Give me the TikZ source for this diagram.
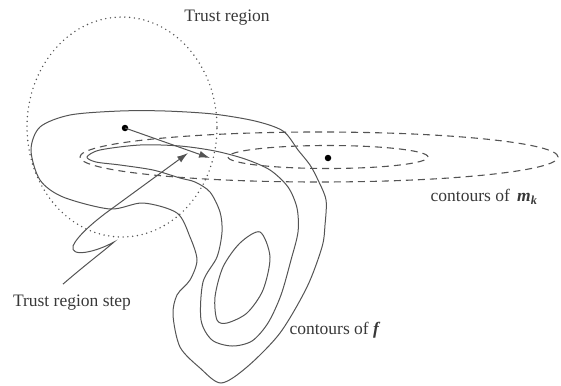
\documentclass[tikz,border=0pt]{standalone}
\usepackage{fontspec}
\setmainfont{Liberation Serif}
\usetikzlibrary{arrows.meta}

\definecolor{inkc}{gray}{0.22}
\definecolor{linec}{gray}{0.33}

\begin{document}
\begin{tikzpicture}[
    x=1pt, y=-1pt,
    lbl/.style     = {text=inkc, font=\fontsize{17.5}{20}\selectfont, inner sep=1pt},
    fcont/.style   = {draw=linec, line width=1pt},
    mcont/.style   = {draw=linec, line width=1.1pt, dash pattern=on 7pt off 5pt},
    tregion/.style = {draw=linec, line width=1.6pt, line cap=round,
                      dash pattern=on 0pt off 4.8pt},
    dot/.style     = {circle, fill=black, inner sep=0pt, minimum size=6.5pt},
    arrow/.style   = {-{Latex[length=11pt,width=7pt]}, draw=linec, line width=1pt}
  ]
  \useasboundingbox (0,0) rectangle (561,385);

  % Trust region
  \draw[tregion] (122,127) ellipse [x radius=95pt, y radius=110pt];

  % contours of m_k
  \draw[mcont] (319,157) ellipse [x radius=239pt, y radius=25pt];
  \draw[mcont] (328,157) ellipse [x radius=100pt, y radius=11.5pt];

  % contours of f
  \draw[fcont] plot[smooth cycle] coordinates {
    (31,150) (40,127) (70,115) (120,111) (165,111) (213,114) (255,121)
    (283,131) (298,150) (310,165) (318,180) (326,200) (325,225) (322,247)
    (307,287) (280,333) (247,367) (221,383) (200,368) (180,347) (173,315)
    (177,295) (190,280) (197,260) (190,237) (177,213) (143,203) (110,209)
    (63,197) (40,180)};
  \draw[fcont] plot[smooth cycle] coordinates {
    (87,157) (100,150) (140,145) (180,146) (215,151) (245,159) (270,170)
    (288,187) (297,208) (298,232) (291,260) (281,295) (268,323) (252,341)
    (232,346) (212,340) (201,320) (203,282) (217,257) (222,232) (220,212)
    (210,192) (195,182) (180,178) (153,170) (120,165) (96,162)};
  \draw[fcont] plot[smooth cycle] coordinates {
    (260,232) (270,257) (263,290) (247,313) (227,323) (217,320) (215,297)
    (223,267) (240,243)};

  % Points
  \node[dot] (xk)   at (125,128) {};
  \node[dot] (xmin) at (328,158) {};
  \coordinate (xnew) at (210,158);
  \coordinate (ptip) at (188,153);

  % Labels
  \node[lbl] (trl)   at (227,18)  {Trust region};
  \node[lbl] (mkl)   at (484,197) {contours of\, \textbf{\textit{m}}\textsubscript{\textbf{\textit{k}}}};
  \node[lbl] (fl)    at (335,330) {contours of \textbf{\textit{f}}};
  \node[lbl] (stepl) at (72,303)  {Trust region step};

  % Arrows
  \draw[arrow] (xk.center) -- (xnew);
  \draw[arrow] ([shift={(-9,-10)}]stepl.north)
    .. controls (85,265) and (105,250) .. (114,242)
    .. controls (96,252) and (70,258) .. (73,246)
    .. controls (77,236) and (96,220) .. (110,210) -- (ptip);
\end{tikzpicture}
\end{document}
